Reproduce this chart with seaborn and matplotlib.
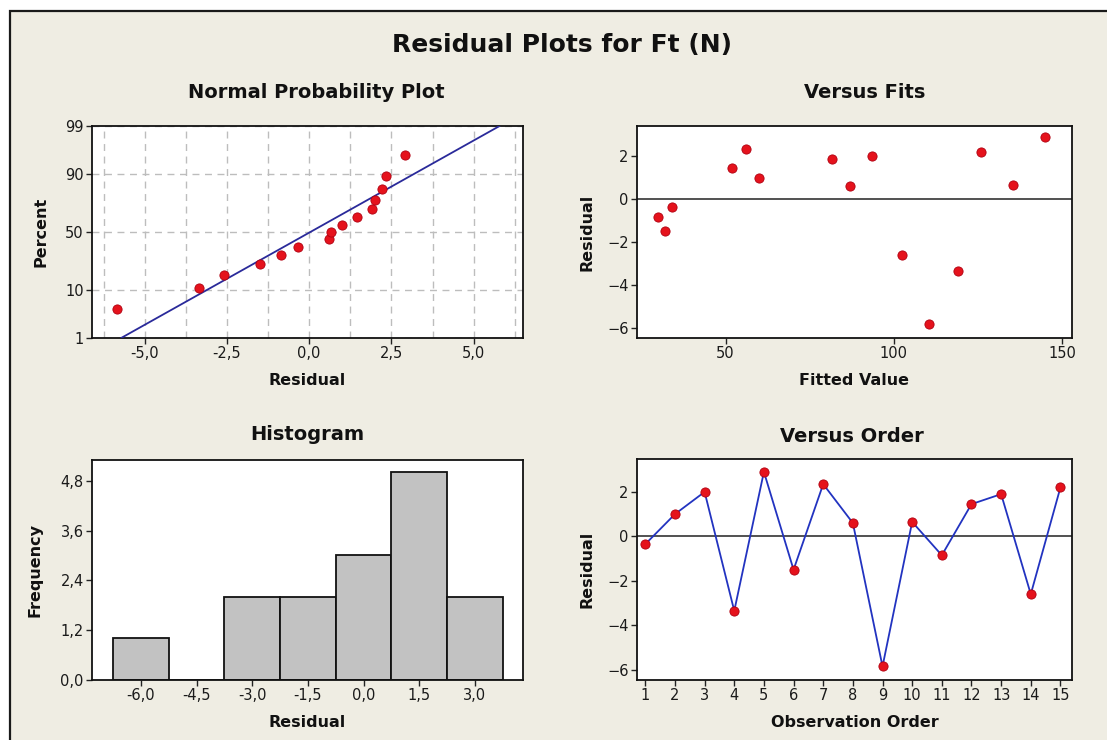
import numpy as np
import pandas as pd
import matplotlib
matplotlib.use("Agg")
import matplotlib.pyplot as plt
import seaborn as sns
from matplotlib.patches import Rectangle
from matplotlib.ticker import FuncFormatter, MultipleLocator, FixedLocator
from statistics import NormalDist

# Residuals of the Ft (N) model, in observation order
observation = list(range(1, 16))
residuals = [-0.35, 1.0, 2.0, -3.35, 2.9, -1.5, 2.35, 0.6, -5.85, 0.65,
             -0.85, 1.45, 1.9, -2.6, 2.2]
fitted = [34, 60, 93.5, 119, 145, 32, 56, 87, 110.5, 135.5,
          30, 52, 81.5, 102.5, 126]

pct_ticks = [1, 10, 50, 90, 99]
npp_xticks = [-5.0, -2.5, 0.0, 2.5, 5.0]
hist_xticks = [-6.0, -4.5, -3.0, -1.5, 0.0, 1.5, 3.0]
hist_yticks = [0.0, 1.2, 2.4, 3.6, 4.8]
resid_yticks = [-6, -4, -2, 0, 2]
fit_xticks = [50, 100, 150]

BG = "#efede3"
RED = "#e5121c"
NAVY = "#2a2a9a"
BLUE = "#2233c0"

sns.set_theme(style="white")
plt.rcParams["font.family"] = ["DejaVu Sans"]

W, H = 1107, 740
fig = plt.figure(figsize=(W / 100, H / 100), dpi=100, facecolor="white")

# cream panel with a dark frame on top/left
fig.patches.append(Rectangle((10 / W, -0.05), 1.2, 1 - 11 / H + 0.05,
                             transform=fig.transFigure, facecolor=BG,
                             edgecolor="#1a1a1a", lw=1.6, zorder=-10))


def box(l, t, r, b):
    return [l / W, 1 - b / H, (r - l) / W, (b - t) / H]


def comma(v, _pos=None):
    if abs(v) < 1e-9:
        v = 0.0
    return f"{v:.1f}".replace(".", ",")


def style(ax):
    ax.set_facecolor("white")
    for s in ax.spines.values():
        s.set_color("#111111")
        s.set_linewidth(1.3)
        s.set_visible(True)
    ax.tick_params(axis="both", which="major", direction="out", length=4,
                   width=1, color="#222222", labelsize=10.5,
                   labelcolor="#1a1a1a", pad=2, left=True, bottom=True)
    ax.tick_params(axis="both", which="minor", length=0)


lab = dict(fontsize=11.5, fontweight="bold", color="#111111")

ax_npp = fig.add_axes(box(92, 126, 523, 338))
ax_fit = fig.add_axes(box(637, 126, 1072, 338))
ax_hist = fig.add_axes(box(92, 460, 523, 680))
ax_ord = fig.add_axes(box(637, 459, 1072, 680))

# ---- Normal probability plot ----
nd = NormalDist()
n = len(residuals)
srt = np.sort(residuals)
zpos = [nd.inv_cdf((i + 1 - 0.3) / (n + 0.4)) for i in range(n)]
mu, sd = float(np.mean(residuals)), float(np.std(residuals, ddof=1))
z_lo, z_hi = nd.inv_cdf(pct_ticks[0] / 100), nd.inv_cdf(pct_ticks[-1] / 100)
fit_line = pd.DataFrame({"x": [mu + sd * z_lo, mu + sd * z_hi], "z": [z_lo, z_hi]})

sns.lineplot(data=fit_line, x="x", y="z", ax=ax_npp, color=NAVY, lw=1.3, zorder=3)
sns.scatterplot(x=srt, y=zpos, ax=ax_npp, color=RED, s=44, edgecolor="#b00010",
                linewidth=0.6, zorder=4)
ax_npp.set_xlim(-6.6, 6.5)
ax_npp.set_ylim(z_lo, z_hi)
ax_npp.xaxis.set_major_locator(FixedLocator(npp_xticks))
ax_npp.xaxis.set_minor_locator(MultipleLocator(1.25))
ax_npp.xaxis.set_major_formatter(FuncFormatter(comma))
ax_npp.yaxis.set_major_locator(FixedLocator([nd.inv_cdf(p / 100) for p in pct_ticks]))
ax_npp.set_yticklabels([str(p) for p in pct_ticks])
ax_npp.grid(True, which="both", axis="x", color="#bdbdbd", ls=(0, (5, 4)), lw=1)
ax_npp.grid(True, which="major", axis="y", color="#bdbdbd", ls=(0, (5, 4)), lw=1)
style(ax_npp)
ax_npp.set_xlabel("Residual", **lab)
ax_npp.set_ylabel("Percent", **lab)

# ---- Versus fits ----
sns.scatterplot(x=fitted, y=residuals, ax=ax_fit, color=RED, s=44,
                edgecolor="#b00010", linewidth=0.6, zorder=4)
ax_fit.axhline(0, color="#222222", lw=1.1, zorder=2)
ax_fit.set_xlim(23.7, 152.9)
ax_fit.set_ylim(-6.49, 3.42)
ax_fit.set_xticks(fit_xticks)
ax_fit.set_yticks(resid_yticks)
style(ax_fit)
ax_fit.set_xlabel("Fitted Value", **lab)
ax_fit.set_ylabel("Residual", **lab)

# ---- Histogram ----
sns.histplot(x=residuals, ax=ax_hist, binwidth=1.5, binrange=(-6.75, 3.75),
             color="#c2c2c2", edgecolor="#111111", linewidth=1.3, alpha=1)
ax_hist.set_xlim(-7.32, 4.3)
ax_hist.set_ylim(0, 5.3)
ax_hist.set_xticks(hist_xticks)
ax_hist.set_yticks(hist_yticks)
ax_hist.xaxis.set_major_formatter(FuncFormatter(comma))
ax_hist.yaxis.set_major_formatter(FuncFormatter(comma))
style(ax_hist)
ax_hist.set_xlabel("Residual", **lab)
ax_hist.set_ylabel("Frequency", **lab)

# ---- Versus order ----
ord_df = pd.DataFrame({"order": observation, "resid": residuals})
ax_ord.axhline(0, color="#222222", lw=1.1, zorder=1)
sns.lineplot(data=ord_df, x="order", y="resid", ax=ax_ord, color=BLUE, lw=1.3, zorder=3)
sns.scatterplot(data=ord_df, x="order", y="resid", ax=ax_ord, color=RED, s=44,
                edgecolor="#b00010", linewidth=0.6, zorder=4)
ax_ord.set_xlim(0.72, 15.39)
ax_ord.set_ylim(-6.46, 3.48)
ax_ord.set_xticks(observation)
ax_ord.set_yticks(resid_yticks)
style(ax_ord)
ax_ord.set_xlabel("Observation Order", **lab)
ax_ord.set_ylabel("Residual", **lab)

# label placement (y-label anchor is the label's right edge)
ax_npp.xaxis.set_label_coords(0.5, -0.165)
ax_fit.xaxis.set_label_coords(0.5, -0.165)
ax_hist.xaxis.set_label_coords(0.5, -0.159)
ax_ord.xaxis.set_label_coords(0.5, -0.159)
ax_npp.yaxis.set_label_coords(-0.102, 0.5)
ax_fit.yaxis.set_label_coords(-0.097, 0.5)
ax_hist.yaxis.set_label_coords(-0.114, 0.5)
ax_ord.yaxis.set_label_coords(-0.097, 0.5)

# titles
fig.text(562 / W, 1 - 45 / H, "Residual Plots for Ft (N)", ha="center", va="center",
         fontsize=18, fontweight="bold", color="#111111")
sub = dict(ha="center", va="center", fontsize=14, fontweight="bold", color="#111111")
fig.text(316 / W, 1 - 93 / H, "Normal Probability Plot", **sub)
fig.text(865 / W, 1 - 93 / H, "Versus Fits", **sub)
fig.text(307 / W, 1 - 435 / H, "Histogram", **sub)
fig.text(852 / W, 1 - 437 / H, "Versus Order", **sub)

fig.savefig("out.png", dpi=100, facecolor="white")
